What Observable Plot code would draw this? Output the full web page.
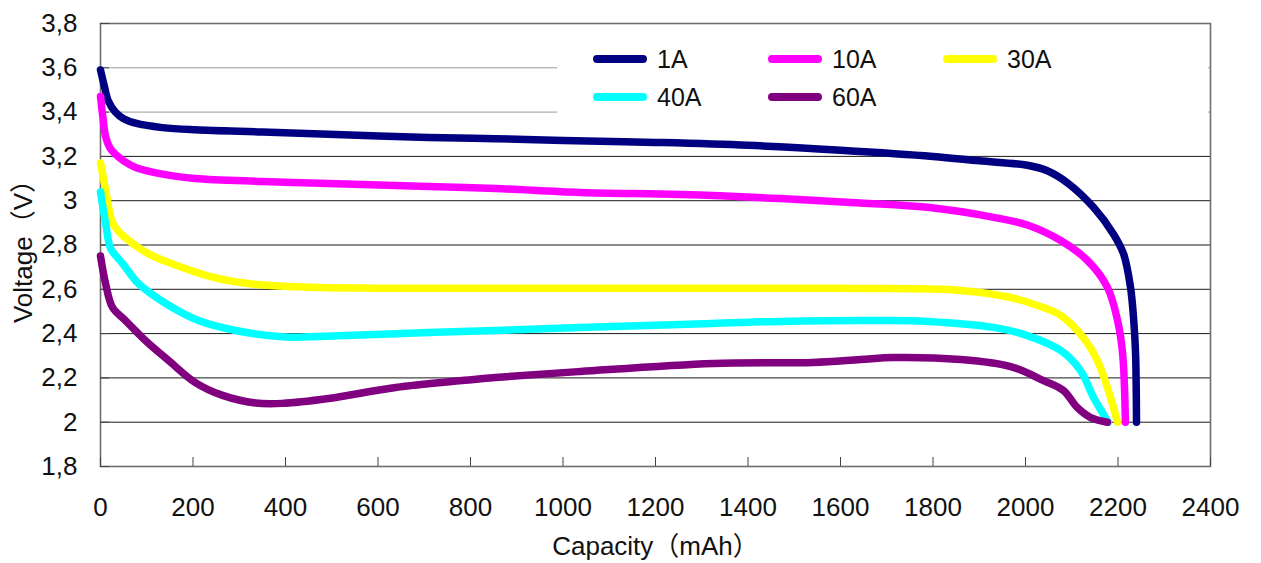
<!DOCTYPE html>
<html>
<head>
<meta charset="utf-8">
<script src="https://cdn.jsdelivr.net/npm/d3@7"></script>
<script src="https://cdn.jsdelivr.net/npm/@observablehq/plot@0.6"></script>
<style>
  html, body { margin: 0; padding: 0; background: #fff; }
  #wrap { position: relative; width: 1261px; height: 563px; font-family: "Liberation Sans", Arial, "Noto Sans CJK SC", sans-serif; }
  #legend { position: absolute; left: 557px; top: 33px; width: 651px; height: 88px; background: #fff; }
  .item { position: absolute; height: 30px; display: flex; align-items: center; }
  .sw { width: 54px; height: 8px; border-radius: 4px; margin-right: 10px; }
  .lb { font-size: 25px; color: #111; }
</style>
</head>
<body>
<div id="wrap"></div>
<script>
// ---- data ----
const seriesNames = ["1A", "10A", "30A", "40A", "60A"];
const seriesColors = ["#000080", "#ff00ff", "#ffff00", "#00ffff", "#800080"];

const cap1A  = [0, 8, 17, 32, 50, 76, 134, 205, 350, 493, 709, 854, 1000, 1200, 1400, 1600, 1800, 1900, 2004, 2047, 2091, 2147, 2190, 2212, 2227, 2234, 2238, 2240];
const volt1A = [3.59, 3.52, 3.45, 3.40, 3.37, 3.35, 3.33, 3.32, 3.31, 3.30, 3.285, 3.28, 3.272, 3.263, 3.25, 3.228, 3.20, 3.18, 3.16, 3.135, 3.08, 2.97, 2.85, 2.76, 2.61, 2.46, 2.31, 2.00];

const cap10A  = [0, 5, 11, 20, 32, 50, 76, 134, 205, 350, 493, 709, 854, 1038, 1254, 1470, 1643, 1788, 1931, 2004, 2076, 2134, 2177, 2199, 2210, 2216];
const volt10A = [3.47, 3.38, 3.29, 3.24, 3.21, 3.18, 3.15, 3.12, 3.10, 3.087, 3.078, 3.064, 3.055, 3.037, 3.028, 3.01, 2.99, 2.97, 2.925, 2.89, 2.82, 2.73, 2.61, 2.46, 2.31, 2.00];

const cap30A  = [0, 11, 26, 40, 61, 104, 162, 242, 314, 437, 600, 1000, 1400, 1643, 1859, 1968, 2026, 2076, 2125, 2155, 2177, 2199];
const volt30A = [3.17, 3.05, 2.90, 2.86, 2.82, 2.76, 2.71, 2.655, 2.627, 2.61, 2.605, 2.605, 2.605, 2.604, 2.595, 2.563, 2.527, 2.482, 2.382, 2.28, 2.157, 2.00];

const cap40A  = [0, 11, 22, 48, 82, 141, 212, 292, 400, 530, 709, 854, 1038, 1254, 1470, 1686, 1788, 1931, 2004, 2076, 2119, 2147, 2179];
const volt40A = [3.04, 2.90, 2.785, 2.716, 2.626, 2.536, 2.459, 2.414, 2.385, 2.391, 2.405, 2.414, 2.428, 2.441, 2.455, 2.459, 2.455, 2.428, 2.391, 2.324, 2.233, 2.112, 2.00];

const cap60A  = [0, 11, 26, 54, 97, 147, 205, 264, 335, 393, 493, 638, 782, 854, 1038, 1325, 1541, 1643, 1715, 1859, 1968, 2039, 2082, 2112, 2141, 2177];
const volt60A = [2.75, 2.626, 2.518, 2.459, 2.369, 2.279, 2.179, 2.121, 2.087, 2.085, 2.107, 2.157, 2.188, 2.202, 2.229, 2.265, 2.27, 2.283, 2.292, 2.283, 2.251, 2.188, 2.143, 2.066, 2.021, 2.00];

const xTicks = [0, 200, 400, 600, 800, 1000, 1200, 1400, 1600, 1800, 2000, 2200, 2400];
const yTicks = [1.8, 2.0, 2.2, 2.4, 2.6, 2.8, 3.0, 3.2, 3.4, 3.6, 3.8];
const xTitle = "Capacity（mAh）";
const yTitle = "Voltage（V）";

// ---- build table ----
const caps = [cap1A, cap10A, cap30A, cap40A, cap60A];
const volts = [volt1A, volt10A, volt30A, volt40A, volt60A];
const rows = [];
seriesNames.forEach((name, i) => {
  caps[i].forEach((c, j) => rows.push({series: name, cap: c, volt: volts[i][j]}));
});

const fmtY = d => String(+d.toFixed(1)).replace(".", ",");
const fmtX = d => String(d);

const chart = Plot.plot({
  width: 1261,
  height: 563,
  marginLeft: 100,
  marginRight: 51,
  marginTop: 23,
  marginBottom: 97,
  style: {fontFamily: '"Liberation Sans", Arial, "Noto Sans CJK SC", sans-serif', background: "#fff", overflow: "visible"},
  x: {domain: [0, 2400]},
  y: {domain: [1.8, 3.8]},
  color: {domain: seriesNames, range: seriesColors},
  marks: [
    Plot.gridY(yTicks.slice(1, -1), {stroke: d => (d > 3.3 ? "#9a9a9a" : "#1a1a1a"), strokeOpacity: 1, strokeWidth: 1}),
    Plot.frame({stroke: "#6e6e6e", strokeWidth: 1.6}),
    Plot.axisX({ticks: xTicks, tickSize: -9, tickPadding: 40, fontSize: 26, tickFormat: fmtX, stroke: "#444", fill: "#111",
      label: xTitle, labelAnchor: "center", labelArrow: "none", labelOffset: 88}),
    Plot.axisY({ticks: yTicks, tickSize: -9, tickPadding: 32, fontSize: 26, tickFormat: fmtY, stroke: "#444", fill: "#111",
      label: yTitle, labelAnchor: "center", labelArrow: "none", labelOffset: 87}),
    Plot.line(rows, {x: "cap", y: "volt", z: "series", stroke: "series", strokeWidth: 7.5,
      strokeLinecap: "round", strokeLinejoin: "round", curve: "catmull-rom"})
  ]
});

const wrap = document.getElementById("wrap");
wrap.appendChild(chart);

// ---- legend (over the plot area, white box) ----
const legend = document.createElement("div");
legend.id = "legend";
const colLeft = [36, 211, 386];
const rowTop = [11, 49];
seriesNames.forEach((name, i) => {
  const it = document.createElement("div");
  it.className = "item";
  it.style.left = colLeft[i % 3] + "px";
  it.style.top = rowTop[Math.floor(i / 3)] + "px";
  const sw = document.createElement("div");
  sw.className = "sw";
  sw.style.background = seriesColors[i];
  const lb = document.createElement("span");
  lb.className = "lb";
  lb.textContent = name;
  it.appendChild(sw);
  it.appendChild(lb);
  legend.appendChild(it);
});
wrap.appendChild(legend);
</script>
</body>
</html>
